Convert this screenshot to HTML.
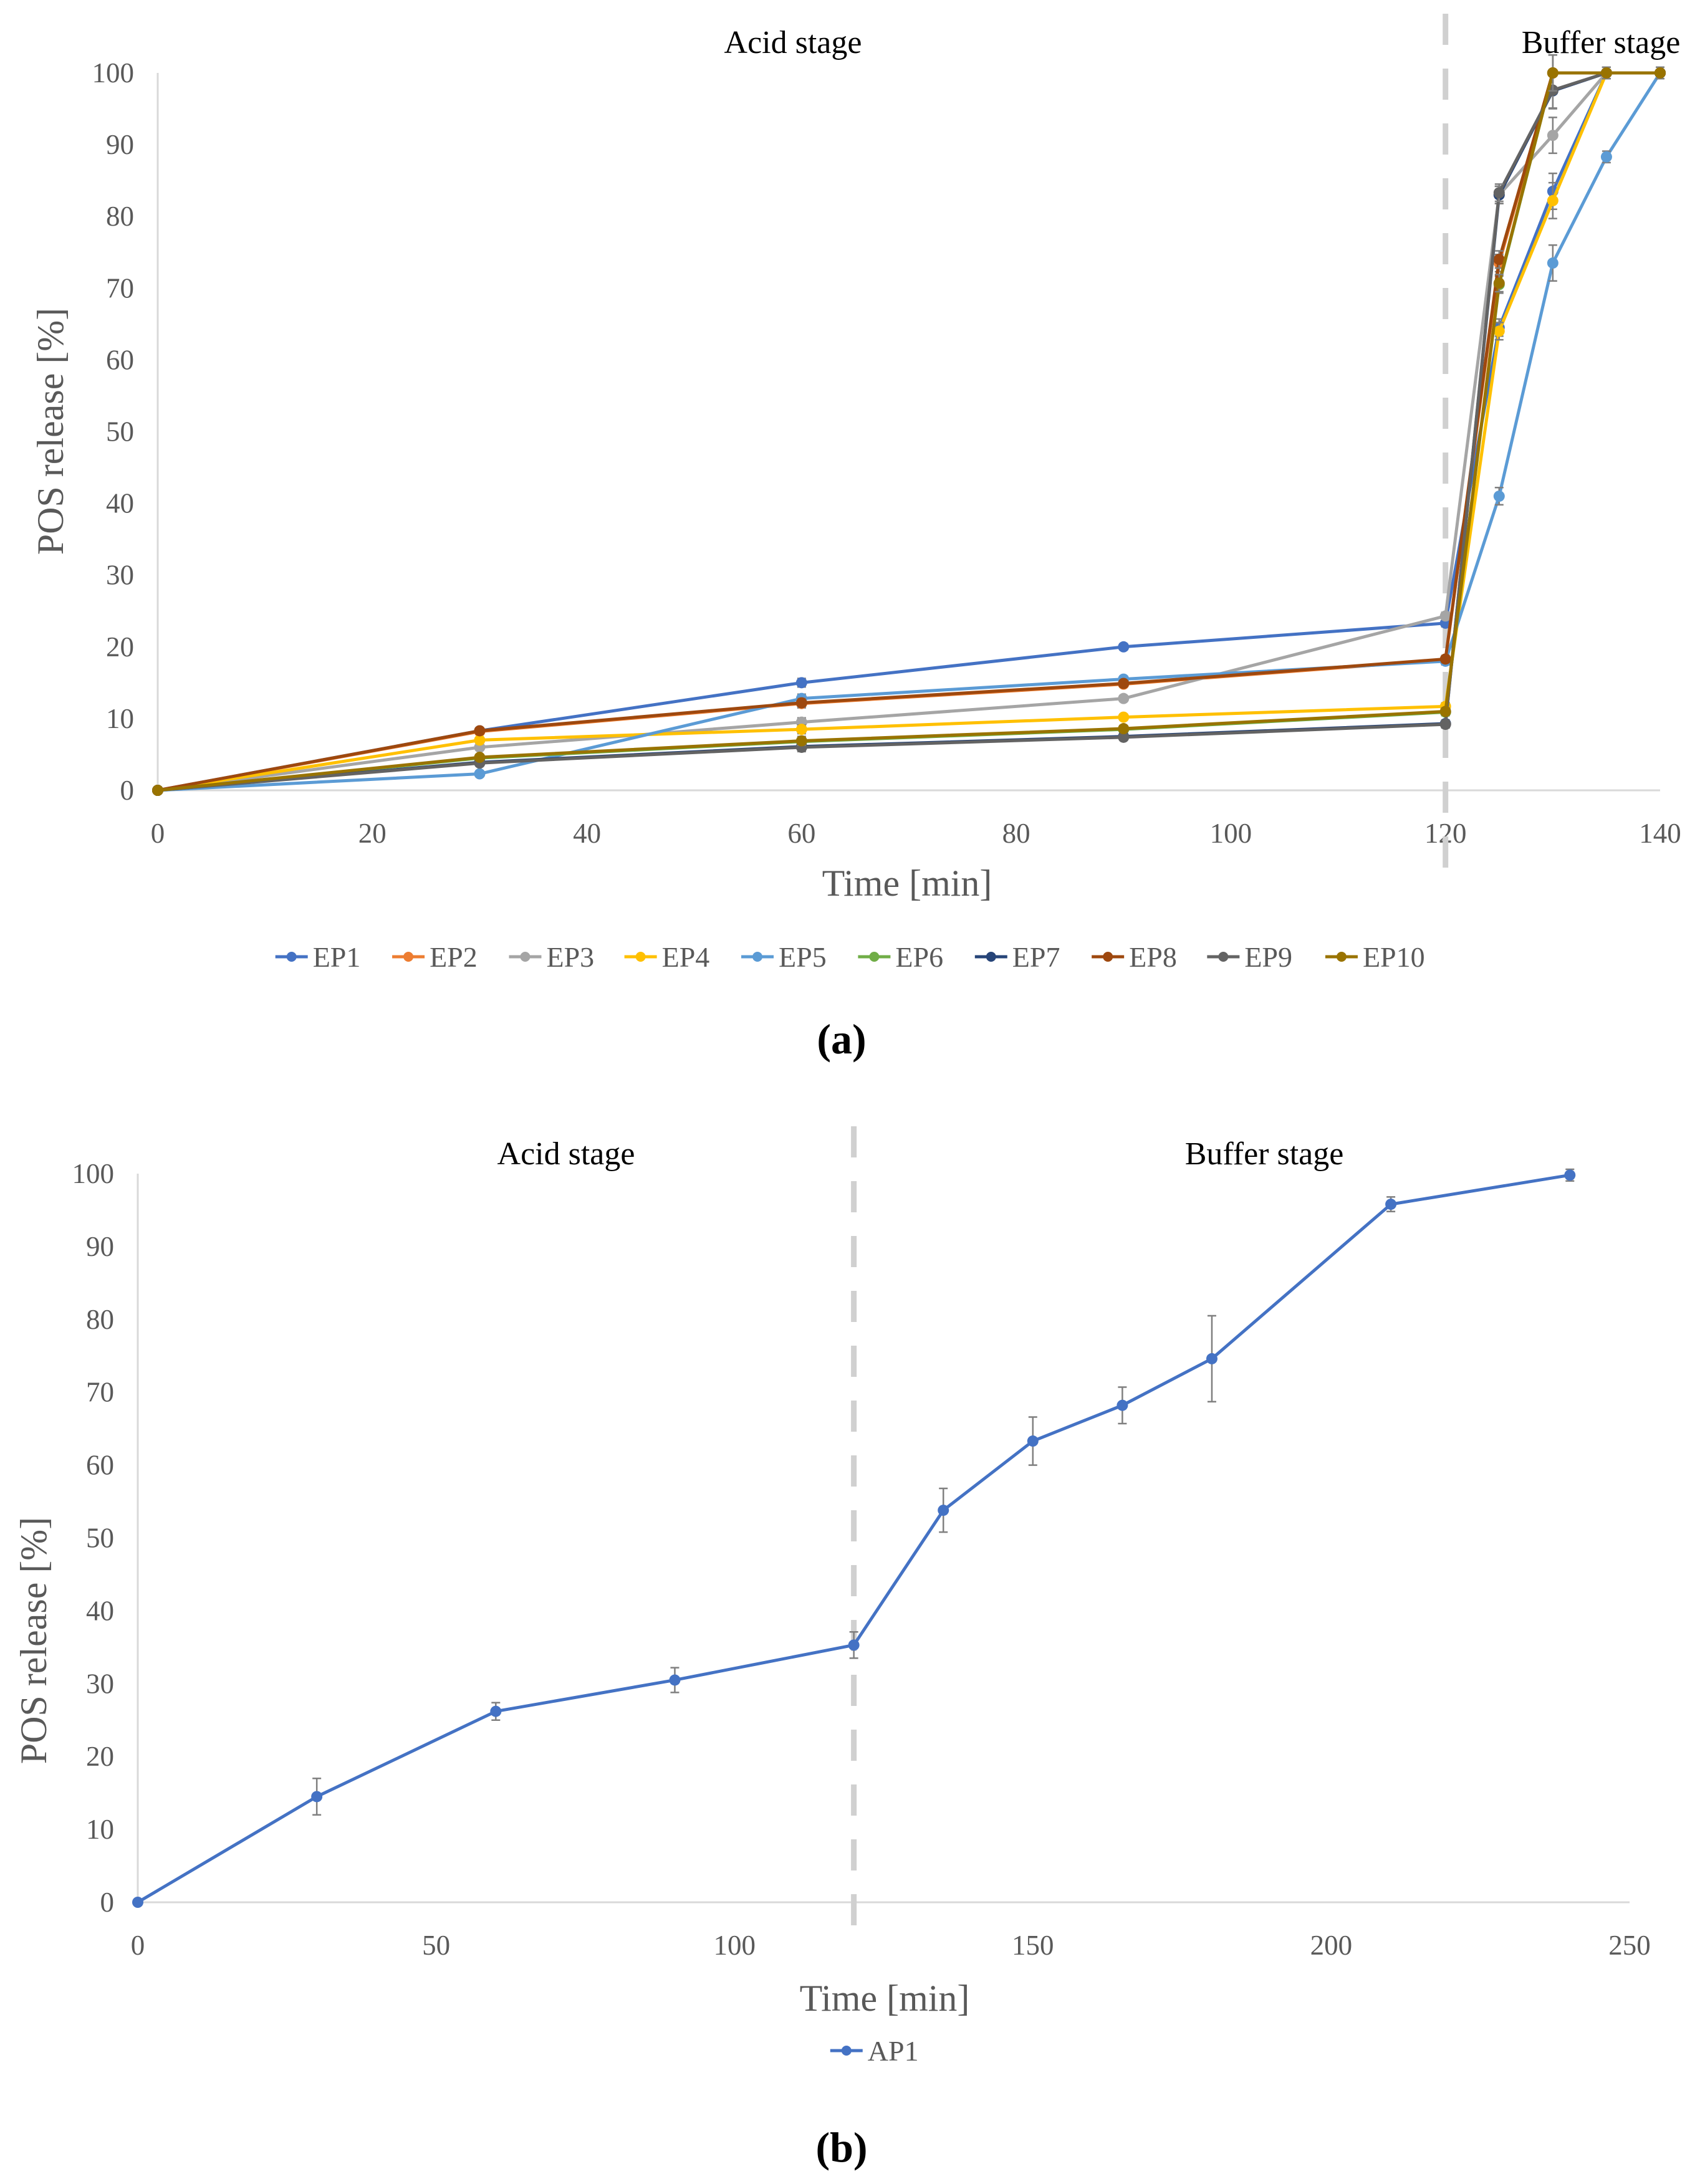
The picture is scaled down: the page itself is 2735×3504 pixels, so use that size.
<!DOCTYPE html>
<html><head><meta charset="utf-8"><style>
body{margin:0;background:#fff}
svg{display:block}
text{font-family:"Liberation Serif",serif}
</style></head><body>
<svg id="s" width="2735" height="3504" viewBox="0 0 2735 3504" xmlns="http://www.w3.org/2000/svg"></svg>
<script>
const xA=[0,30,60,90,120,125,130,135,140];
const ep1=[0,8.3,15,20,23.3,64.5,83.5,100,100];
const ep2=[0,8.2,12.1,14.8,18.2,73.5,100,100,100];
const ep3=[0,6,9.5,12.8,24.3,83,91.3,100,100];
const ep4=[0,7,8.5,10.2,11.7,64,82.2,100,100];
const ep5=[0,2.3,12.8,15.5,18,41,73.5,88.3,100];
const ep6=[0,4.5,6.8,8.5,10.9,70.5,100,100,100];
const ep7=[0,3.9,6.1,7.5,9.3,83,97.5,100,100];
const ep8=[0,8.3,12.2,14.9,18.3,74,100,100,100];
const ep9=[0,3.8,6,7.4,9.2,83.3,97.6,100,100];
const ep10=[0,4.6,6.9,8.6,11,70.7,100,100,100];
const errA=[0,0.3,0.6,0.4,0.5,1.2,2.5,0.8,0.8];
const namesA=["EP1","EP2","EP3","EP4","EP5","EP6","EP7","EP8","EP9","EP10"];
const colorsA=["#4472C4","#ED7D31","#A5A5A5","#FFC000","#5B9BD5","#70AD47","#264478","#9E480E","#636363","#997300"];
const seriesA=[ep1,ep2,ep3,ep4,ep5,ep6,ep7,ep8,ep9,ep10];
const xTicksA=[0,20,40,60,80,100,120,140];
const yTicks=[0,10,20,30,40,50,60,70,80,90,100];
const xB=[0,30,60,90,120,135,150,165,180,210,240];
const ap1=[0,14.5,26.2,30.5,35.3,53.8,63.3,68.2,74.6,95.8,99.8];
const errB=[0,2.5,1.2,1.7,1.8,3,3.3,2.5,5.9,1,0.8];
const xTicksB=[0,50,100,150,200,250];

const NS="http://www.w3.org/2000/svg";
const svg=document.getElementById('s');
function el(t,a,p){const e=document.createElementNS(NS,t);for(const k in a)e.setAttribute(k,a[k]);(p||svg).appendChild(e);return e;}
function txt(s,a,p){const e=el('text',a,p);e.textContent=s;return e;}

function chart(cfg){
  const g=el('g',{});
  
  
  const X=v=>cfg.x0+(v-cfg.xmin)/(cfg.xmax-cfg.xmin)*(cfg.x1-cfg.x0);
  const Y=v=>cfg.y0-(v/100)*(cfg.y0-cfg.y1);
  const ya=el('line',{x1:cfg.x0,y1:cfg.y0,x2:cfg.x0,y2:cfg.y1,stroke:'#d9d9d9','stroke-width':3},g);
  
  
  const xa=el('line',{x1:cfg.x0,y1:cfg.y0,x2:cfg.x1,y2:cfg.y0,stroke:'#d9d9d9','stroke-width':3},g);
  
  
  yTicks.forEach(v=>{const t=txt(String(v),{x:cfg.x0-38,y:Y(v)+15,'text-anchor':'end','font-size':45,fill:'#595959'},g);
    
    });
  cfg.xticks.forEach(v=>{const t=txt(String(v),{x:X(v),y:cfg.y0+84,'text-anchor':'middle','font-size':45,fill:'#595959'},g);
    
    });
  const dl=el('line',{x1:X(120),y1:cfg.dash0,x2:X(120),y2:cfg.dash1,stroke:'#d0d0d0','stroke-width':9,'stroke-dasharray':'50 38'},g);
  
  
  cfg.series.forEach((s,i)=>{
    const sg=el('g',{},g);
    
    
    const pts=s.map((v,j)=>X(cfg.xs[j])+','+Y(v)).join(' ');
    const pl=el('polyline',{points:pts,fill:'none',stroke:cfg.colors[i],'stroke-width':5,'stroke-linejoin':'round'},sg);
    
    
    s.forEach((v,j)=>{
      const e=cfg.err[j];
      if(e>0){const eb=el('path',{d:`M${X(cfg.xs[j])} ${Y(v+e)}V${Y(v-e)}M${X(cfg.xs[j])-7} ${Y(v+e)}h14M${X(cfg.xs[j])-7} ${Y(v-e)}h14`,stroke:'#7f7f7f','stroke-width':2.5,fill:'none'},sg);
        
        }
      const c=el('circle',{cx:X(cfg.xs[j]),cy:Y(v),r:9,fill:cfg.colors[i]},sg);
      
      
    });
  });
  return {X,Y,g};
}

chart({name:'chart-a',x0:253,x1:2663,xmin:0,xmax:140,y0:1268,y1:117,xticks:xTicksA,xs:xA,series:seriesA,colors:colorsA,names:namesA,err:errA,dash0:22,dash1:1420});
chart({name:'chart-b',x0:221,x1:2614,xmin:0,xmax:250,y0:3052,y1:1883,xticks:xTicksB,xs:xB,series:[ap1],colors:['#4472C4'],names:['AP1'],err:errB,dash0:1807,dash1:3112});

function label(s,a,name){const t=txt(s,a);return t;}
label('Acid stage',{x:1272,y:85,'text-anchor':'middle','font-size':52,fill:'#000'},'acid-stage-label-a');
label('Buffer stage',{x:2568,y:85,'text-anchor':'middle','font-size':52,fill:'#000'},'buffer-stage-label-a');
label('Time [min]',{x:1455,y:1437,'text-anchor':'middle','font-size':60,fill:'#595959'},'x-axis-title-a');
label('POS release [%]',{x:0,y:0,'text-anchor':'middle','font-size':60,fill:'#595959',transform:'translate(101,692) rotate(-90)'},'y-axis-title-a');
label('(a)',{x:1350,y:1690,'text-anchor':'middle','font-size':68,'font-weight':'bold',fill:'#000'},'panel-label-a');
label('Acid stage',{x:908,y:1868,'text-anchor':'middle','font-size':52,fill:'#000'},'acid-stage-label-b');
label('Buffer stage',{x:2028,y:1868,'text-anchor':'middle','font-size':52,fill:'#000'},'buffer-stage-label-b');
label('Time [min]',{x:1419,y:3226,'text-anchor':'middle','font-size':60,fill:'#595959'},'x-axis-title-b');
label('POS release [%]',{x:0,y:0,'text-anchor':'middle','font-size':60,fill:'#595959',transform:'translate(74,2632) rotate(-90)'},'y-axis-title-b');
label('(b)',{x:1350,y:3468,'text-anchor':'middle','font-size':68,'font-weight':'bold',fill:'#000'},'panel-label-b');

const legX=[198,282,366,449,533,617,701,785,868,953];
function legend(x,y,name,color){
  const g=el('g',{});
  
  
  el('line',{x1:x,y1:y,x2:x+52,y2:y,stroke:color,'stroke-width':5},g);
  el('circle',{cx:x+26,cy:y,r:8,fill:color},g);
  txt(name,{x:x+60,y:y+16,'font-size':46,fill:'#595959'},g);
}
namesA.forEach((n,i)=>legend(legX[i]*2.2308,1535,n,colorsA[i]));
legend(597*2.2308,3290,'AP1','#4472C4');
</script>
</body></html>
